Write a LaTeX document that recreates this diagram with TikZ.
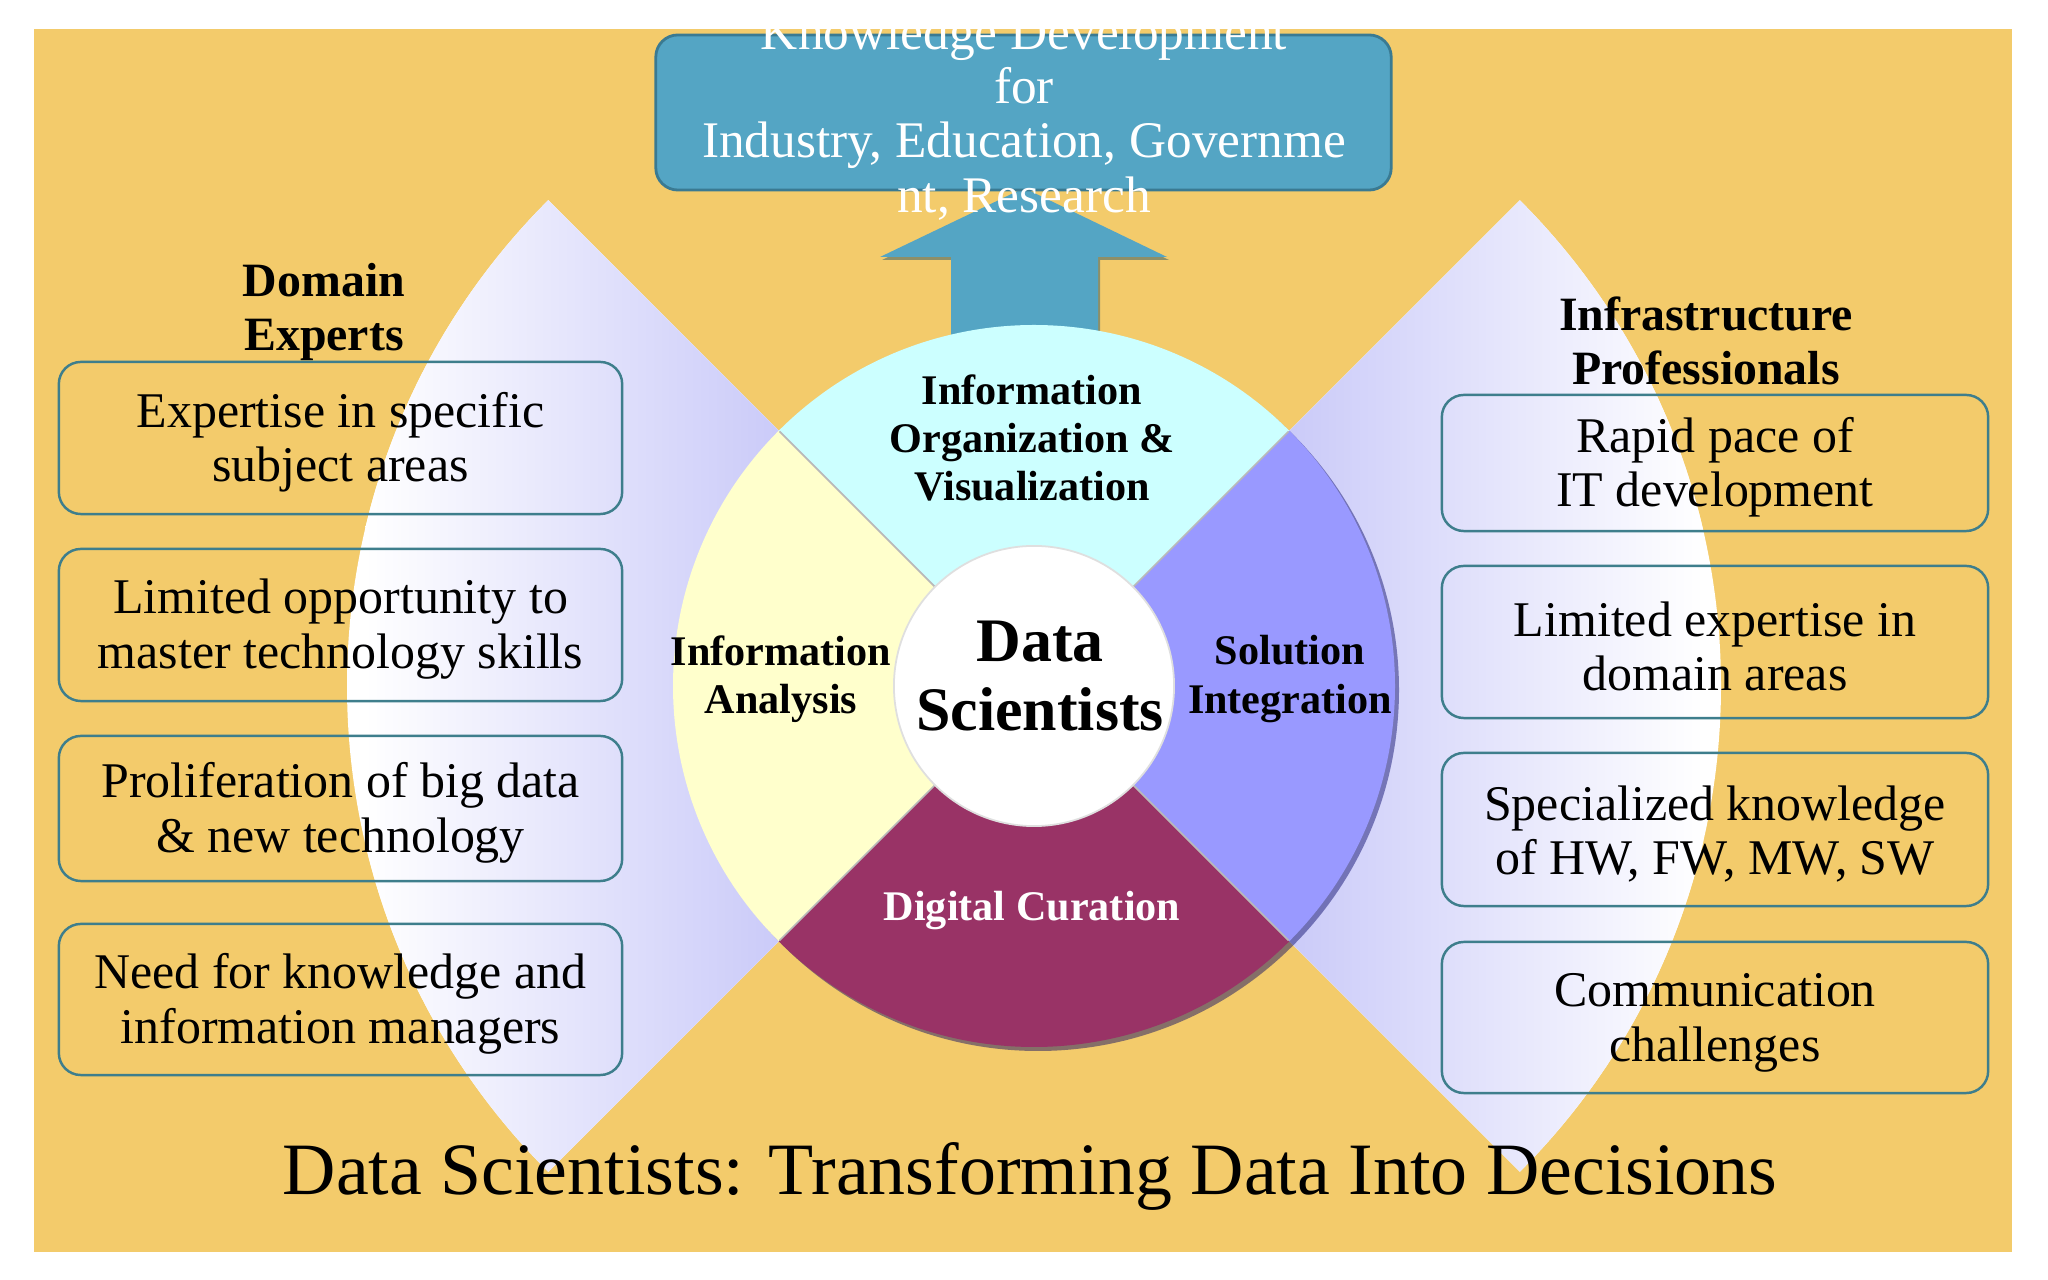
\documentclass[tikz,border=0pt]{standalone}
\usepackage{fontspec}
\setmainfont{Liberation Serif}

\definecolor{bgorange}{RGB}{243,203,107}
\definecolor{kdblue}{RGB}{84,165,196}
\definecolor{kdedge}{RGB}{58,122,146}
\definecolor{boxedge}{RGB}{62,126,140}
\definecolor{lensblue}{RGB}{198,198,248}
\definecolor{orgcyan}{RGB}{204,255,255}
\definecolor{anayellow}{RGB}{255,255,204}
\definecolor{curmagenta}{RGB}{153,51,102}
\definecolor{solblue}{RGB}{153,153,255}

\begin{document}
\begin{tikzpicture}[x=0.01cm, y=-0.01cm,
    infobox/.style={draw=boxedge, line width=0.7pt, rounded corners=0.22cm,
        align=center, inner sep=0pt, font=\fontsize{14.2}{15.6}\selectfont,
        execute at begin node=\rule{0pt}{28pt}},
    leftbox/.style={infobox, minimum width=5.63cm},
    rightbox/.style={infobox, minimum width=5.46cm},
    heading/.style={align=center, font=\fontsize{13.6}{15.4}\selectfont\bfseries},
    wheeltext/.style={align=center, font=\fontsize{12}{13.7}\selectfont\bfseries}]

    \useasboundingbox (0,0) rectangle (2048,1280);
    \fill[white] (0,0) rectangle (2048,1280);
    \fill[bgorange] (34,29) rectangle (2012,1252);

    \begin{scope}
        \clip (34,29) rectangle (2012,1252);
        \coordinate (hub) at (1034,686);

        % Draw the two lenses behind the wheel
        \fill[white] (hub) -- ++(135:687) arc[start angle=135, end angle=225, radius=687] -- cycle;
        \begin{scope}
            \clip (hub) -- ++(135:687) arc[start angle=135, end angle=225, radius=687] -- cycle;
            \shade[left color=white, right color=lensblue] (365,150) rectangle (815,1220);
        \end{scope}

        \fill[white] (hub) -- ++(-45:687) arc[start angle=-45, end angle=45, radius=687] -- cycle;
        \begin{scope}
            \clip (hub) -- ++(-45:687) arc[start angle=-45, end angle=45, radius=687] -- cycle;
            \shade[left color=lensblue, right color=white] (1253,150) rectangle (1703,1220);
        \end{scope}

        % Draw the arrow up to the top box
        \fill[kdedge!70!black, opacity=0.5] (953,420) -- (953,260) -- (882,260) -- (1026,191)
            -- (1169,260) -- (1100,260) -- (1100,420) -- cycle;
        \fill[kdblue] (951,420) -- (951,257) -- (880,257) -- (1024,188)
            -- (1167,257) -- (1098,257) -- (1098,420) -- cycle;

        % Draw the wheel
        \fill[black!60!blue, opacity=0.45] ([shift={(4,4)}]hub) circle (361);
        \fill[orgcyan] (hub) -- ++(225:361) arc[start angle=225, end angle=315, radius=361] -- cycle;
        \fill[anayellow] (hub) -- ++(135:361) arc[start angle=135, end angle=225, radius=361] -- cycle;
        \fill[curmagenta] (hub) -- ++(45:361) arc[start angle=45, end angle=135, radius=361] -- cycle;
        \fill[solblue] (hub) -- ++(-45:361) arc[start angle=-45, end angle=45, radius=361] -- cycle;
        \foreach \a in {45,135,225,315}
            \draw[gray!55, line width=0.5pt] ([shift={(\a:140)}]hub) -- ([shift={(\a:360)}]hub);
        \node[circle, fill=white, draw=gray!25, line width=0.5pt, minimum size=2.8cm, inner sep=0pt] (core) at (hub) {};

        % Labels of the wheel
        \node[align=center, font=\fontsize{17.6}{19.6}\selectfont\bfseries] (dsname) at (1040,676) {Data\\Scientists};
        \node[wheeltext] (orgvis) at (1032,438) {Information\\Organization \&\\Visualization};
        \node[wheeltext] (infana) at (781,679) {Information\\Analysis};
        \node[wheeltext] (solint) at (1290,679) {Solution\\Integration};
        \node[wheeltext, text=white] (digcur) at (1032,911) {Digital Curation};

        % Draw the top box
        \node[draw=kdedge, fill=kdblue, line width=0.8pt, rounded corners=0.22cm,
            minimum width=7.35cm, minimum height=1.55cm] (kdbox) at (1023.5,112.5) {};
        \node[align=center, text=white, font=\fontsize{14.6}{15.4}\selectfont] (kdtext) at (1024,117)
            {Knowledge Development\\for\\Industry, Education, Governme\\nt, Research};

        % Left column
        \node[heading] (domexp) at (324,312) {Domain\\Experts};
        \node[leftbox, minimum height=1.52cm] (de1) at (340.5,438) {Expertise in specific\\subject areas};
        \node[leftbox, minimum height=1.52cm] (de2) at (340.5,625) {Limited opportunity to\\master technology skills};
        \node[leftbox, minimum height=1.45cm] (de3) at (340.5,808.5) {Proliferation of big data\\\& new technology};
        \node[leftbox, minimum height=1.51cm] (de4) at (340.5,999.5) {Need for knowledge and\\information managers};

        % Right column
        \node[heading] (infpro) at (1706,341) {Infrastructure\\Professionals};
        \node[rightbox, minimum height=1.36cm] (ip1) at (1715,463) {Rapid pace of\\IT development};
        \node[rightbox, minimum height=1.52cm] (ip2) at (1715,642) {Limited expertise in\\domain areas};
        \node[rightbox, minimum height=1.53cm] (ip3) at (1715,829.5) {Specialized knowledge\\of HW, FW, MW, SW};
        \node[rightbox, minimum height=1.51cm] (ip4) at (1715,1017.5) {Communication\\challenges};

        % Title
        \node[font=\fontsize{21}{25}\selectfont] (title) at (1030,1176) {Data Scientists: Transforming Data Into Decisions};
    \end{scope}
\end{tikzpicture}
\end{document}
